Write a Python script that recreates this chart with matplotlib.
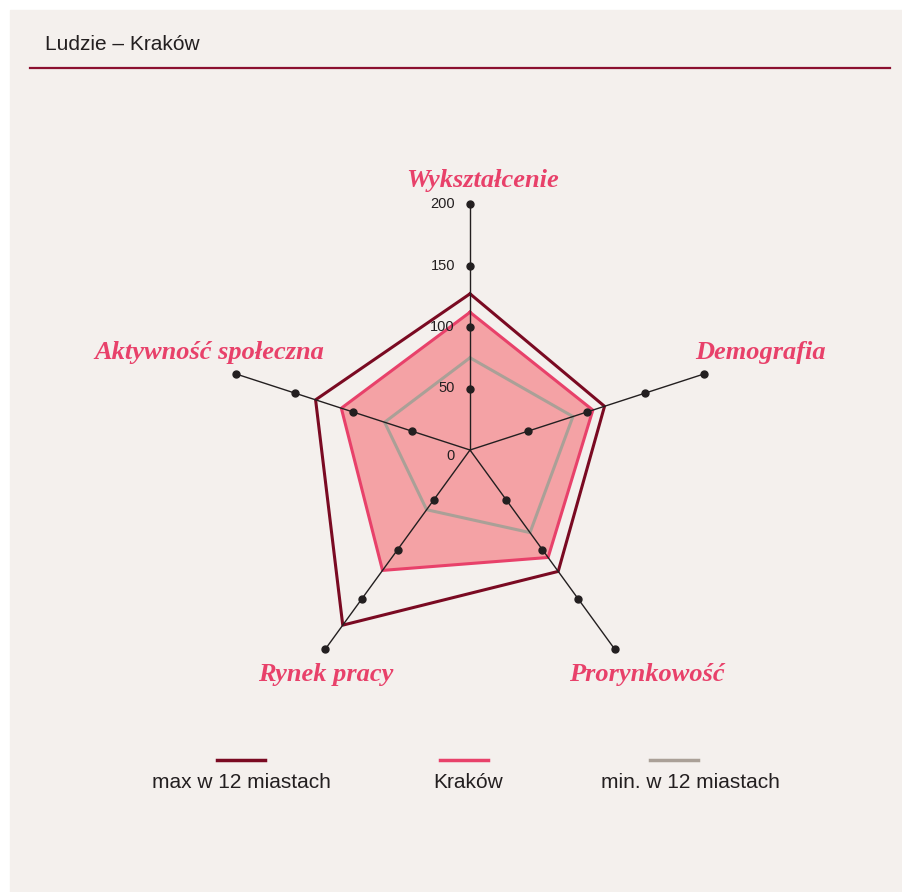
import numpy as np
import matplotlib.pyplot as plt
from matplotlib.lines import Line2D
from matplotlib.patches import Rectangle

categories = ['Wykształcenie', 'Demografia', 'Prorynkowość', 'Rynek pracy', 'Aktywność społeczna']
max_vals = [127, 115, 122, 176, 132]
krakow_vals = [112, 105, 108, 121, 110]
min_vals = [75, 88, 83, 60, 73]
ticks = [0, 50, 100, 150, 200]
series_names = ['max w 12 miastach', 'Kraków', 'min. w 12 miastach']
series_colors = ['#7a0a22', '#e8416a', '#aaa097']

W, H = 902, 892
fig = plt.figure(figsize=(W / 100, H / 100), dpi=100)
fig.patches.append(Rectangle((10 / W, 0), 1, (H - 10) / H, transform=fig.transFigure,
                             color='#f4f0ed', zorder=-10))

# title + rule
fig.text(45 / W, 1 - 45 / H, 'Ludzie – Kraków', fontsize=15, family='Liberation Sans',
         color='#231f20', ha='left', va='center')
fig.add_artist(Line2D([30 / W, 890 / W], [1 - 68 / H, 1 - 68 / H], color='#8b1030', lw=1.6))

# radar
cx, cy, R = 470, 450, 246
ax = fig.add_axes([(cx - R) / W, (H - cy - R) / H, 2 * R / W, 2 * R / H], projection='polar')
ax.set_theta_zero_location('N')
ax.set_theta_direction(-1)
ax.set_ylim(0, 200)
ax.axis('off')

ang = np.arange(len(categories)) * 2 * np.pi / len(categories)
ang_c = np.append(ang, ang[0])
close = lambda v: np.append(v, v[0])

ax.fill(ang_c, close(krakow_vals), color='#f4a2a5', zorder=1, lw=0)
ax.plot(ang_c, close(min_vals), color=series_colors[2], lw=2.2, zorder=2)
ax.plot(ang_c, close(krakow_vals), color=series_colors[1], lw=2.2, zorder=3)
ax.plot(ang_c, close(max_vals), color=series_colors[0], lw=2.2, zorder=3)

for a in ang:
    ax.plot([a, a], [0, 200], color='#231f20', lw=1, zorder=4, clip_on=False)
    ax.plot([a] * 4, ticks[1:], 'o', color='#231f20', ms=5, zorder=5, clip_on=False)

for t in ticks:
    dy = -6 if t == 0 else 0
    ax.annotate(str(t), xy=(0, t), xytext=(-15, dy), textcoords='offset pixels',
                ha='right', va='center', fontsize=10.5, family='Liberation Sans', color='#231f20')

label_offsets = [(13, 24), (57, 21), (32, -25), (0, -25), (-27, 21)]
for a, name, (ox, oy) in zip(ang, categories, label_offsets):
    ax.annotate(name, xy=(a, 200), xytext=(ox, oy), textcoords='offset pixels',
                ha='center', va='center', fontsize=19, family='Liberation Serif',
                fontweight='bold', fontstyle='italic', color='#e8416a', annotation_clip=False)

# legend
leg_lines = [(217, 265), (440, 488), (650, 698)]
leg_text_x = [241, 468, 690]
for (x0, x1), tx, name, col in zip(leg_lines, leg_text_x, series_names, series_colors):
    fig.add_artist(Line2D([x0 / W, x1 / W], [1 - 760 / H] * 2, color=col, lw=2.5))
    fig.text(tx / W, 1 - 783 / H, name, fontsize=15, family='Liberation Sans',
             color='#231f20', ha='center', va='center')

fig.savefig('out.png', dpi=100)
